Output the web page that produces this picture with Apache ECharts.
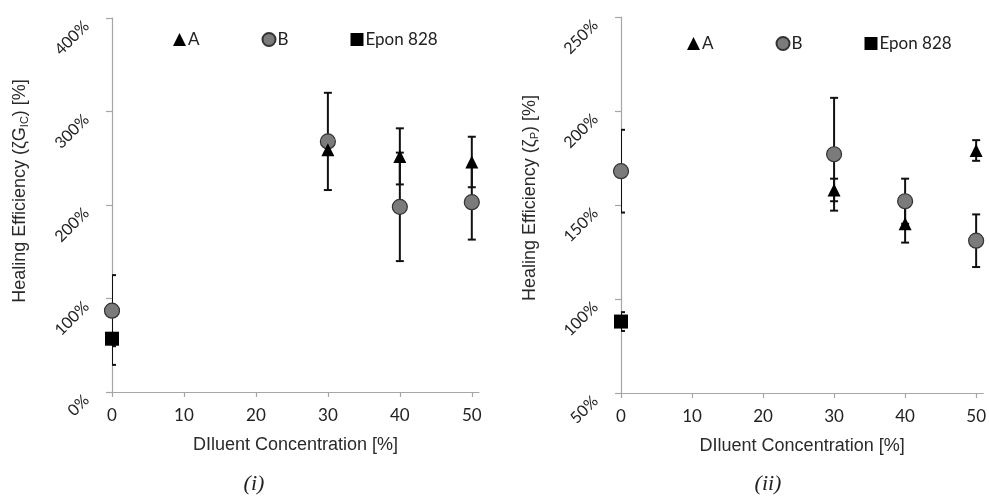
<!DOCTYPE html>
<html>
<head>
<meta charset="utf-8">
<script src="https://cdn.jsdelivr.net/npm/echarts@6/dist/echarts.min.js"></script>
<style>
  html, body { margin: 0; padding: 0; background: #fff; }
  #chart { width: 989px; height: 497px; }
</style>
</head>
<body>
<div id="chart"></div>
<script>
// 稀释剂浓度 [%]
const concA = [30, 40, 50];
const concB = [0, 30, 40, 50];
const concEpon = [0];
const xTicks = [0, 10, 20, 30, 40, 50];

// (i) 愈合效率 ζG_IC [%]
const effA_i = [259, 252, 246];
const errA_i = [5, 30, 27];
const effB_i = [87, 268, 198, 203];
const errB_i = [38, 52, 58, 40];
const effEpon_i = [57];
const errEpon_i = [28];

// (ii) 愈合效率 ζP [%]
const effA_ii = [158, 140, 179];
const errA_ii = [6, 10, 5.5];
const effB_ii = [168, 177, 152, 131];
const errB_ii = [22, 30, 12, 14];
const effEpon_ii = [88];
const errEpon_ii = [5];

const tickFont = "Lato";
const nameFont = "Liberation Sans";

const myChart = echarts.init(document.getElementById("chart"));

const points = (xs, ys) => xs.map((x, i) => [x, ys[i]]);
const bars = (xs, ys, es) => xs.map((x, i) => [x, ys[i] - es[i], ys[i] + es[i]]);

// 误差棒
const renderErr = (params, api) => {
  const x = api.value(0);
  const top = api.coord([x, api.value(2)]);
  const bot = api.coord([x, api.value(1)]);
  const w = 4;
  const style = { stroke: "#111", lineWidth: 2 };
  return {
    type: "group",
    children: [
      { type: "line", shape: { x1: top[0], y1: top[1], x2: bot[0], y2: bot[1] }, style },
      { type: "line", shape: { x1: top[0] - w, y1: top[1], x2: top[0] + w, y2: top[1] }, style },
      { type: "line", shape: { x1: bot[0] - w, y1: bot[1], x2: bot[0] + w, y2: bot[1] }, style },
    ],
  };
};

const makeSeries = (idx, effA, errA, effB, errB, effE, errE) => [
  { type: "custom", xAxisIndex: idx, yAxisIndex: idx, clip: true, z: 1, silent: true,
    renderItem: renderErr, encode: { x: 0, y: [1, 2] }, data: bars(concB, effB, errB) },
  { type: "custom", xAxisIndex: idx, yAxisIndex: idx, clip: true, z: 1, silent: true,
    renderItem: renderErr, encode: { x: 0, y: [1, 2] }, data: bars(concA, effA, errA) },
  { type: "custom", xAxisIndex: idx, yAxisIndex: idx, clip: true, z: 1, silent: true,
    renderItem: renderErr, encode: { x: 0, y: [1, 2] }, data: bars(concEpon, effE, errE) },
  { name: "B", type: "scatter", xAxisIndex: idx, yAxisIndex: idx, z: 3,
    symbol: "circle", symbolSize: 15,
    itemStyle: { color: "#7b7b7b", borderColor: "#333", borderWidth: 1.2, opacity: 1 },
    data: points(concB, effB) },
  { name: "A", type: "scatter", xAxisIndex: idx, yAxisIndex: idx, z: 4,
    symbol: "triangle", symbolSize: 13,
    itemStyle: { color: "#000", opacity: 1 },
    data: points(concA, effA) },
  { name: "Epon 828", type: "scatter", xAxisIndex: idx, yAxisIndex: idx, z: 4,
    symbol: "rect", symbolSize: 14,
    itemStyle: { color: "#000", opacity: 1 },
    data: points(concEpon, effE) },
];

const axisLine = { show: true, lineStyle: { color: "#a6a6a6", width: 1.2 } };
const axisTick = { show: true, length: 6, lineStyle: { color: "#a6a6a6", width: 1.2 } };

const xAxisOf = (idx) => ({
  type: "value", gridIndex: idx, min: 0, max: 51,
  name: "DIluent Concentration [%]", nameLocation: "middle", nameGap: 44,
  nameTextStyle: { fontFamily: nameFont, fontSize: 18, color: "#2a2a2a" },
  axisLine, splitLine: { show: false },
  axisTick: { ...axisTick, length: 5, customValues: xTicks },
  axisLabel: { customValues: xTicks, fontFamily: tickFont, fontSize: 17, color: "#222", margin: 15 },
});

const yAxisOf = (idx, min, max, interval) => ({
  type: "value", gridIndex: idx, min, max, interval,
  axisLine, axisTick, splitLine: { show: false },
  axisLabel: { formatter: "{value}%", rotate: 45, fontFamily: tickFont, fontSize: 16, color: "#222",
               margin: 20, padding: [0, 8, 0, 0] },
});

const legendOf = (left, top) => ({
  left, top, orient: "horizontal", itemGap: 62, itemWidth: 13, itemHeight: 13,
  textStyle: { fontFamily: tickFont, fontSize: 17, color: "#222", padding: [0, 0, 0, -3] },
  selectedMode: false,
  data: [
    { name: "A", icon: "triangle" },
    { name: "B", icon: "circle" },
    { name: "Epon 828", icon: "rect" },
  ],
});

const yName = (x, y, main) => ({
  type: "text", x, y, rotation: Math.PI / 2,
  style: {
    text: main,
    rich: {
      s: { fontFamily: nameFont, fontSize: 11, padding: [9, 0, 0, 0], fill: "#2a2a2a" },
    },
    fontFamily: nameFont, fontSize: 18, fill: "#2a2a2a",
    align: "center", verticalAlign: "middle",
  },
});

let option = {
  animation: false,
  grid: [
    { left: 112, top: 18, width: 367, height: 374 },
    { left: 621, top: 17, width: 367, height: 376 },
  ],
  legend: [legendOf(168, 26), legendOf(682, 30)],
  xAxis: [xAxisOf(0), xAxisOf(1)],
  yAxis: [yAxisOf(0, 0, 400, 100), yAxisOf(1, 50, 250, 50)],
  graphic: [
    yName(20, 191, "Healing Efficiency (ζG{s|IC}) [%]"),
    yName(530, 198, "Healing Efficiency (ζ{s|P}) [%]"),
    { type: "text", x: 254, y: 484,
      style: { text: "(i)", fontFamily: "Liberation Serif", fontStyle: "italic", fontSize: 22,
               fill: "#222", align: "center", verticalAlign: "middle" } },
    { type: "text", x: 768, y: 484,
      style: { text: "(ii)", fontFamily: "Liberation Serif", fontStyle: "italic", fontSize: 22,
               fill: "#222", align: "center", verticalAlign: "middle" } },
  ],
  series: [
    ...makeSeries(0, effA_i, errA_i, effB_i, errB_i, effEpon_i, errEpon_i),
    ...makeSeries(1, effA_ii, errA_ii, effB_ii, errB_ii, effEpon_ii, errEpon_ii),
  ],
};

option && myChart.setOption(option);
</script>
</body>
</html>
